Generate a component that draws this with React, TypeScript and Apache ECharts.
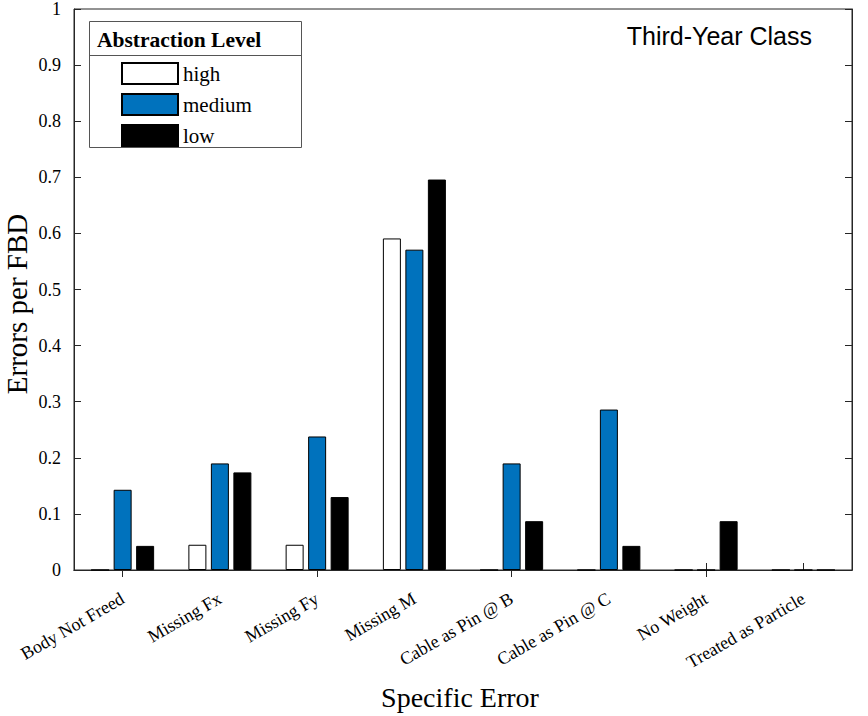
import React, { useEffect, useRef } from "react";
import * as echarts from "echarts";

const categories = [
  "Body Not Freed",
  "Missing Fx",
  "Missing Fy",
  "Missing M",
  "Cable as Pin @ B",
  "Cable as Pin @ C",
  "No Weight",
  "Treated as Particle",
];
const highValues = [0, 0.045, 0.045, 0.591, 0, 0, 0, 0];
const mediumValues = [0.143, 0.19, 0.238, 0.571, 0.19, 0.286, 0, 0];
const lowValues = [0.043, 0.174, 0.13, 0.696, 0.087, 0.043, 0.087, 0];
const yTicks = [0, 0.1, 0.2, 0.3, 0.4, 0.5, 0.6, 0.7, 0.8, 0.9, 1];

const SERIF = "'Liberation Serif', 'Times New Roman', serif";
const SANS = "'Liberation Sans', Arial, sans-serif";
const AX = "#262626";

export default function App() {
  const ref = useRef<HTMLDivElement>(null);
  useEffect(() => {
    if (!ref.current) return;
    const chart = echarts.init(ref.current, null, { renderer: "svg" });
    const mkSeries = (name: string, data: number[], color: string) => ({
      name,
      type: "bar",
      data,
      barWidth: 18,
      barGap: "25%",
      itemStyle: { color, borderColor: "#000", borderWidth: 1 },
    });
    const tick = { show: true, inside: true, length: 7, lineStyle: { color: AX } };
    chart.setOption({
      animation: false,
      backgroundColor: "#fff",
      grid: { left: 74, right: 16, top: 6, bottom: 146, show: true, borderColor: AX, borderWidth: 1, backgroundColor: "transparent" },
      xAxis: [
        {
          type: "category",
          data: categories,
          boundaryGap: true,
          position: "bottom",
          axisLine: { show: true, lineStyle: { color: AX } },
          axisTick: { ...tick, alignWithLabel: true },
          axisLabel: {
            interval: 0,
            rotate: 30,
            margin: 27,
            fontFamily: SERIF,
            fontSize: 18,
            color: "#000",
          },
        },
        {
          type: "category",
          data: categories,
          position: "top",
          axisLine: { show: true, lineStyle: { color: AX } },
          axisTick: { ...tick, alignWithLabel: true },
          axisLabel: { show: false },
        },
      ],
      yAxis: [
        {
          type: "value",
          min: 0,
          max: 1,
          interval: 0.1,
          axisLine: { show: true, lineStyle: { color: AX } },
          axisTick: tick,
          splitLine: { show: false },
          axisLabel: {
            fontFamily: SERIF,
            fontSize: 18,
            color: "#000",
            margin: 13,
            formatter: (v: number) => {
              const t = yTicks.find((x) => Math.abs(x - v) < 1e-9);
              return t === undefined ? "" : String(t);
            },
          },
        },
        {
          type: "value",
          min: 0,
          max: 1,
          interval: 0.1,
          position: "right",
          axisLine: { show: true, lineStyle: { color: AX } },
          axisTick: tick,
          splitLine: { show: false },
          axisLabel: { show: false },
        },
      ],
      legend: {
        orient: "vertical",
        left: 121,
        top: 62,
        itemWidth: 56,
        itemHeight: 21,
        itemGap: 8,
        padding: 0,
        icon: "rect",
        textStyle: { fontFamily: SERIF, fontSize: 21, color: "#000" },
        data: ["high", "medium", "low"],
      },
      graphic: [
        {
          type: "rect",
          shape: { x: 89.5, y: 21.5, width: 212, height: 126 },
          style: { fill: "rgba(255,255,255,0)", stroke: "#555", lineWidth: 1 },
          z: 1,
        },
        {
          type: "line",
          shape: { x1: 89.5, y1: 55.5, x2: 301.5, y2: 55.5 },
          style: { stroke: "#555", lineWidth: 1 },
        },
        {
          type: "text",
          x: 97,
          y: 40,
          style: {
            text: "Abstraction Level",
            fontFamily: SERIF,
            fontSize: 21.5,
            fontWeight: "bold",
            fill: "#000",
            verticalAlign: "middle",
          },
        },
        {
          type: "text",
          x: 812,
          y: 36,
          style: {
            text: "Third-Year Class",
            fontFamily: SANS,
            fontSize: 25,
            fill: "#000",
            align: "right",
            verticalAlign: "middle",
          },
        },
        {
          type: "text",
          x: 460,
          y: 697,
          style: {
            text: "Specific Error",
            fontFamily: SERIF,
            fontSize: 28,
            fill: "#000",
            align: "center",
            verticalAlign: "middle",
          },
        },
        {
          type: "text",
          x: 17,
          y: 304,
          rotation: Math.PI / 2,
          style: {
            text: "Errors per FBD",
            fontFamily: SERIF,
            fontSize: 29,
            fill: "#000",
            align: "center",
            verticalAlign: "middle",
          },
        },
      ],
      series: [
        mkSeries("high", highValues, "#ffffff"),
        mkSeries("medium", mediumValues, "#0072BD"),
        mkSeries("low", lowValues, "#000000"),
      ],
    });
    return () => chart.dispose();
  }, []);
  return <div ref={ref} style={{ position: "absolute", left: 0, top: 0, width: 868, height: 716 }} />;
}
